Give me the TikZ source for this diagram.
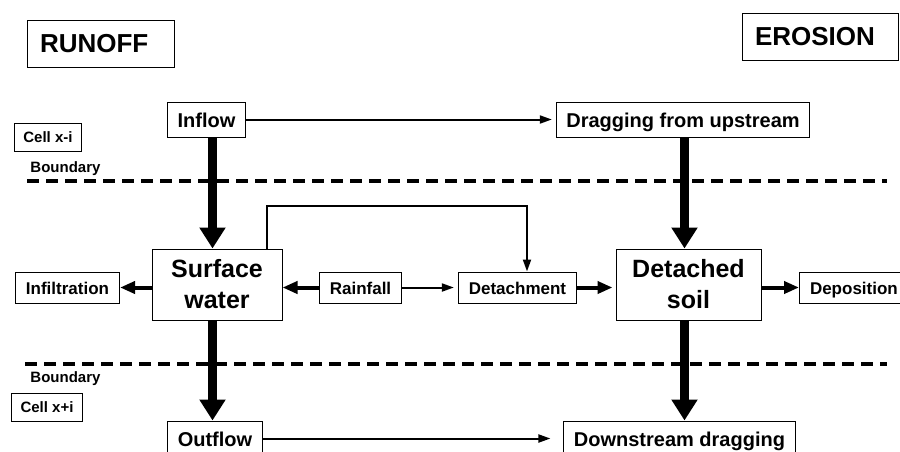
\documentclass[tikz,border=0pt]{standalone}
\usepackage{fontspec}
\setmainfont{Liberation Sans}
\usetikzlibrary{positioning,arrows.meta}
\tikzset{
  ertitulo/.style={draw, line width=1pt, font=\fontsize{26}{30}\selectfont\bfseries, align=left,
                  inner xsep=13pt, minimum height=47pt},
  erfluxo/.style={draw, line width=1pt, font=\fontsize{20}{24}\selectfont\bfseries,
                  inner xsep=10pt, minimum height=35pt, text height=17pt, text depth=2pt},
  erbloco/.style={draw, line width=1pt, font=\fontsize{17}{20}\selectfont\bfseries,
                  inner xsep=10.5pt, minimum height=31pt, text height=15pt, text depth=2pt},
  erestoque/.style={draw, line width=1pt, font=\fontsize{25}{31}\selectfont\bfseries, align=center,
                  inner sep=2pt, minimum height=71pt},
  ercelula/.style={draw, line width=1pt, font=\fontsize{15}{18}\selectfont\bfseries,
                  inner xsep=9pt, minimum height=28pt},
  errotulo/.style={font=\fontsize{15}{18}\selectfont\bfseries, inner sep=0pt},
  erlimite/.style={line width=4pt, dash pattern=on 12pt off 7pt},
  erseta/.style={-{Triangle[length=21pt, width=25pt]}, line width=9pt},
  ersetamedia/.style={-{Triangle[length=15pt, width=12pt]}, line width=4pt},
  ersetafina/.style={-{Triangle[length=12pt, width=8pt]}, line width=2pt},
}
\begin{document}
\begin{tikzpicture}[x=1pt, y=-1pt]
        \useasboundingbox (0,0) rectangle (900,451);
        \clip (0,0) rectangle (900,451);
        % titulos
        \node[ertitulo, text width=121pt] (runoff) at (100.5,43.5) {RUNOFF};
        \node[ertitulo, text width=130pt] (erosion) at (820,36.5) {EROSION};
        % limites entre celulas
        \draw[erlimite] (27,181) -- (887,181);
        \draw[erlimite] (25,364) -- (887,364);
        \node[ercelula] (celulasup) at (48,137) {Cell x-i};
        \node[errotulo] (limitesup) at (65.5,168.5) {Boundary};
        \node[errotulo] (limiteinf) at (65.5,378.5) {Boundary};
        \node[ercelula] (celulainf) at (47,407.5) {Cell x+i};
        % fluxos
        \node[erfluxo] (inflow) at (206.5,119.5) {Inflow};
        \node[erfluxo] (upstream) at (683,119.5) {Dragging from upstream};
        \node[erestoque, minimum width=130pt] (surface) at (217,284.5) {Surface\\ water};
        \node[erestoque, minimum width=145pt] (soil) at (688.5,284.5) {Detached\\ soil};
        \node[erbloco] (infil) at (67.5,287.5) {Infiltration};
        \node[erbloco] (rain) at (360.5,287.5) {Rainfall};
        \node[erbloco] (detach) at (517.5,287.5) {Detachment};
        \node[erbloco, anchor=west] (depo) at (799,287.5) {Deposition};
        \node[erfluxo] (outflow) at (215,438.5) {Outflow};
        \node[erfluxo] (downstream) at (679.5,438.5) {Downstream dragging};
        % ligacoes
        \draw[ersetafina, shorten >=4pt] (inflow) -- (upstream);
        \draw[erseta] ([xshift=6pt]inflow.south) -- ([xshift=6pt]inflow.south |- surface.north);
        \draw[erseta] ([xshift=1.5pt]upstream.south) -- ([xshift=1.5pt]upstream.south |- soil.north);
        \coordinate (desvio) at (527,206);
        \draw[ersetafina] ([xshift=50pt]surface.north) |- (desvio) -- (desvio |- detach.north);
        \draw[ersetamedia] (surface.west |- infil.east) -- (infil.east);
        \draw[ersetamedia] (rain.west) -- (rain.west -| surface.east);
        \draw[ersetafina, shorten >=4pt] (rain) -- (detach);
        \draw[ersetamedia, shorten >=3pt] (detach.east) -- (detach.east -| soil.west);
        \draw[ersetamedia] (soil.east |- depo.west) -- (depo.west);
        \draw[erseta] ([xshift=-4.5pt]surface.south) -- ([xshift=-4.5pt]surface.south |- outflow.north);
        \draw[erseta] ([xshift=-4pt]soil.south) -- ([xshift=-4pt]soil.south |- downstream.north);
        \draw[ersetafina, shorten >=13pt] (outflow) -- (downstream);
    \end{tikzpicture}
\end{document}
